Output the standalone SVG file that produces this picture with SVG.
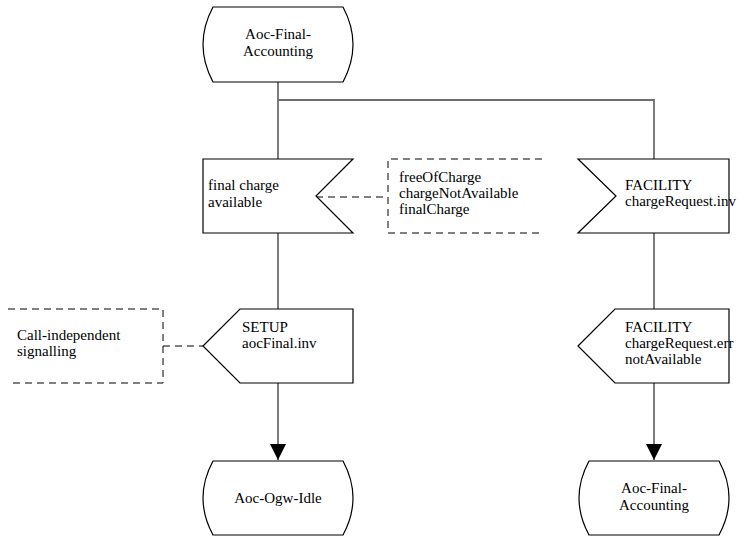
<svg xmlns="http://www.w3.org/2000/svg" width="744" height="540" viewBox="0 0 744 540">
<style>
.shape{fill:#fff;stroke:#000;stroke-width:1.2}
.conn{fill:none;stroke:#6e6e6e;stroke-width:1.8}
.dash{fill:none;stroke:#000;stroke-width:1;stroke-dasharray:7,5}
text{font-family:"Liberation Serif","Times New Roman",serif;font-size:15px;fill:#000}
.c{text-anchor:middle}
</style>
<defs>
<marker id="arr" markerUnits="userSpaceOnUse" markerWidth="18" markerHeight="16" refX="16" refY="8" orient="auto">
<path d="M0,0 L16,8 L0,16 Z" fill="#000"/>
</marker>
</defs>
<rect width="744" height="540" fill="#fff"/>
<g id="connectors">
<path class="conn" d="M278,82 V159"/>
<path class="conn" d="M278,100 H654 V159"/>
<path class="conn" d="M278,233 V309"/>
<path class="conn" d="M278,383 V460" marker-end="url(#arr)"/>
<path class="conn" d="M654,233 V309"/>
<path class="conn" d="M654,383 V460" marker-end="url(#arr)"/>
<path class="dash" d="M316,197 H388"/>
<path class="dash" d="M163,346 H203"/>
</g>
<g id="state-top">
<path class="shape" d="M213,7 H343 Q363,44.5 343,82 H213 Q193,44.5 213,7 Z"/>
<text class="c" x="278" y="39">Aoc-Final-</text>
<text class="c" x="278" y="56">Accounting</text>
</g>
<g id="input-final-charge">
<polygon class="shape" points="203,159 353,159 316,196 353,233 203,233"/>
<text x="208" y="190">final charge</text>
<text x="208" y="207">available</text>
</g>
<g id="comment-charge">
<path class="dash" d="M542,159 H388 V233 H542"/>
<text x="399" y="182">freeOfCharge</text>
<text x="399" y="198">chargeNotAvailable</text>
<text x="399" y="214">finalCharge</text>
</g>
<g id="input-facility">
<polygon class="shape" points="578,159 729,159 729,233 578,233 616,196"/>
<text x="625" y="190">FACILITY</text>
<text x="625" y="206">chargeRequest.inv</text>
</g>
<g id="output-setup">
<polygon class="shape" points="203,346 240,309 353,309 353,383 240,383"/>
<text x="242" y="332">SETUP</text>
<text x="242" y="348">aocFinal.inv</text>
</g>
<g id="comment-signalling">
<path class="dash" d="M8,309 H163 V383 H8"/>
<text x="17" y="340">Call-independent</text>
<text x="17" y="356">signalling</text>
</g>
<g id="output-facility">
<polygon class="shape" points="578,346 615,309 729,309 729,383 615,383"/>
<text x="625" y="332">FACILITY</text>
<text x="625" y="348">chargeRequest.err</text>
<text x="625" y="364">notAvailable</text>
</g>
<g id="state-idle">
<path class="shape" d="M213,461 H343 Q363,498 343,535 H213 Q193,498 213,461 Z"/>
<text class="c" x="278" y="503">Aoc-Ogw-Idle</text>
</g>
<g id="state-final-bottom">
<path class="shape" d="M589,461 H719 Q739,498 719,535 H589 Q569,498 589,461 Z"/>
<text class="c" x="654" y="493">Aoc-Final-</text>
<text class="c" x="654" y="510">Accounting</text>
</g>
</svg>
